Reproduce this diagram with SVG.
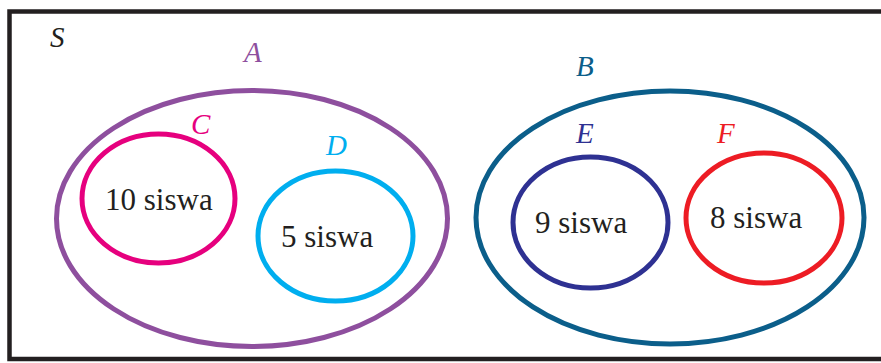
<svg xmlns="http://www.w3.org/2000/svg" width="881" height="363" viewBox="0 0 881 363">
<style>
.set{fill:none;stroke-width:5}
.lbl{font-family:"Liberation Serif","Times New Roman",serif;font-style:italic;font-size:29px}
.txt{font-family:"Liberation Serif","Times New Roman",serif;font-size:31px;fill:#231f20}
</style>
<rect width="881" height="363" fill="#fff"/>
<rect x="9.5" y="11.5" width="900" height="347.5" fill="none" stroke="#231f20" stroke-width="4.5"/>
<text class="lbl" x="50" y="47" fill="#231f20">S</text>
<g id="A">
<ellipse class="set" cx="252" cy="218.5" rx="195.5" ry="128" stroke="#8e4f9e"/>
<text class="lbl" x="244" y="62" fill="#8e4f9e">A</text>
</g>
<g id="C">
<ellipse class="set" cx="158.5" cy="198.5" rx="76.5" ry="64.5" stroke="#e6007e"/>
<text class="lbl" x="191" y="134" fill="#e6007e">C</text>
<text class="txt" x="105" y="210">10 siswa</text>
</g>
<g id="D">
<ellipse class="set" cx="335.5" cy="236" rx="77.5" ry="65" stroke="#00aeef"/>
<text class="lbl" x="326" y="155" fill="#00aeef">D</text>
<text class="txt" x="281" y="247">5 siswa</text>
</g>
<g id="B">
<ellipse class="set" cx="670" cy="217.5" rx="194" ry="126.5" stroke="#0b5e8a"/>
<text class="lbl" x="576" y="76" fill="#0b5e8a">B</text>
</g>
<g id="E">
<ellipse class="set" cx="590.5" cy="222.5" rx="77.5" ry="65.5" stroke="#2e3192"/>
<text class="lbl" x="576" y="143" fill="#2e3192">E</text>
<text class="txt" x="535" y="233">9 siswa</text>
</g>
<g id="F">
<ellipse class="set" cx="764" cy="218" rx="78" ry="65" stroke="#ed1c24"/>
<text class="lbl" x="717" y="143" fill="#ed1c24">F</text>
<text class="txt" x="710" y="228">8 siswa</text>
</g>
<g id="connectors"/>
</svg>
